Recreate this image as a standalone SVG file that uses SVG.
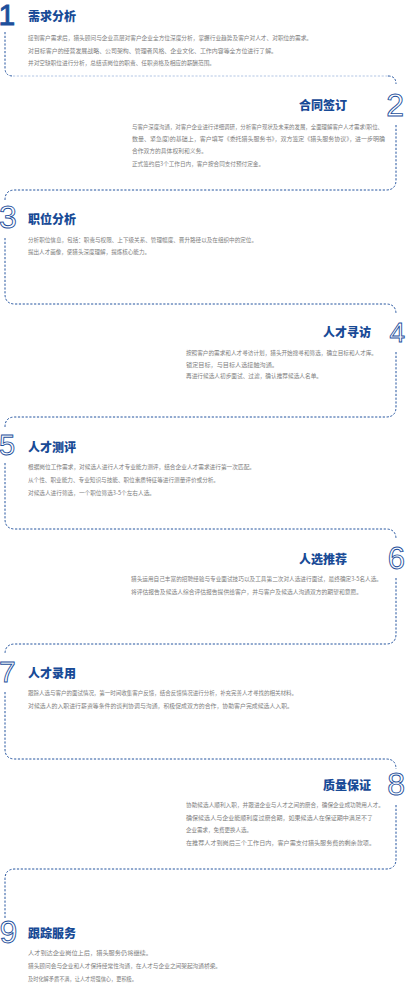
<svg xmlns="http://www.w3.org/2000/svg" width="408" height="1000" viewBox="0 0 408 1000">
<style>
.num{font-family:"Liberation Sans",Arial,sans-serif;font-size:32px;fill:#ffffff;stroke:#1d4f9c;stroke-width:0.9}
.title{font-family:"Noto Sans CJK SC","Noto Sans",sans-serif;font-size:12px;font-weight:900;fill:#184a96}
.body{font-family:"Noto Sans CJK SC","Noto Sans",sans-serif;font-size:6px;fill:#808080}
.dash{fill:none;stroke:#24549f;stroke-width:1;stroke-dasharray:2.2 1.6}
.dash-light{fill:none;stroke:#b3c6e4;stroke-width:1;stroke-dasharray:2.2 1.6}
</style>
<rect width="408" height="1000" fill="#ffffff"/>
<g id="connectors">
<path class="dash" d="M5,32 V68 Q5,76 13,76"/>
<path class="dash-light" d="M13,76 H388"/>
<path class="dash" d="M388,76 Q396,76 396,84"/>
<path class="dash" d="M396,125 V180 Q396,190 386,190 H15 Q5,190 5,200"/>
<path class="dash" d="M5,238 V294 Q5,304 15,304 H386 Q396,304 396,314"/>
<path class="dash" d="M396,352 V407 Q396,417 386,417 H15 Q5,417 5,427"/>
<path class="dash" d="M5,463 V519 Q5,529 15,529 H386 Q396,529 396,539"/>
<path class="dash" d="M396,578 V634 Q396,644 386,644 H15 Q5,644 5,654"/>
<path class="dash" d="M5,692 V749 Q5,759 15,759 H386 Q396,759 396,769"/>
<path class="dash" d="M396,805 V859 Q396,869 386,869 H15 Q5,869 5,879 V918"/>
</g>
<g id="step1">
<text class="num" x="-1.5" y="25" style="fill:#1d4f9c;font-size:30px">1</text>
<text class="title" x="28" y="21">需求分析</text>
<text class="body" x="28" y="39.5" textLength="284" lengthAdjust="spacingAndGlyphs">接到客户需求后，猎头顾问与企业高层对客户企业全方位深度分析，掌握行业趋势及客户对人才、对职位的需求。</text>
<text class="body" x="28" y="52.5" textLength="249" lengthAdjust="spacingAndGlyphs">对目标客户的经营发展战略、公司架构、管理者风格、企业文化、工作内容等全方位进行了解。</text>
<text class="body" x="28" y="65" textLength="187" lengthAdjust="spacingAndGlyphs">并对空缺职位进行分析，总结该岗位的职责、任职资格及相应的薪酬范围。</text>
</g>
<g id="step2">
<text class="num" x="404" y="116" text-anchor="end">2</text>
<text class="title" x="347" y="110" text-anchor="end">合同签订</text>
<text class="body" x="132" y="129" textLength="251" lengthAdjust="spacingAndGlyphs">与客户深度沟通，对客户企业进行详细调研，分析客户现状及未来的发展，全面理解客户人才需求(职位、</text>
<text class="body" x="132" y="140.5" textLength="253" lengthAdjust="spacingAndGlyphs">数量、紧急度)的基础上，客户填写《委托猎头服务书》，双方签定《猎头服务协议》，进一步明确</text>
<text class="body" x="132" y="153" textLength="75" lengthAdjust="spacingAndGlyphs">合作双方的具体权利和义务。</text>
<text class="body" x="132" y="166" textLength="132" lengthAdjust="spacingAndGlyphs">正式签约后3个工作日内，客户按合同支付预付定金。</text>
</g>
<g id="step3">
<text class="num" x="-1" y="228">3</text>
<text class="title" x="28" y="224">职位分析</text>
<text class="body" x="28" y="242" textLength="229" lengthAdjust="spacingAndGlyphs">分析职位信息，包括：职责与权限、上下级关系、管理幅度、晋升路径以及在组织中的定位。</text>
<text class="body" x="28" y="254" textLength="122" lengthAdjust="spacingAndGlyphs">提出人才画像，使猎头深度理解，提炼核心能力。</text>
</g>
<g id="step4">
<text class="num" x="405" y="342" text-anchor="end" style="font-size:28px">4</text>
<text class="title" x="371" y="337" text-anchor="end">人才寻访</text>
<text class="body" x="186" y="355" textLength="191" lengthAdjust="spacingAndGlyphs">按照客户的需求和人才寻访计划，猎头开始搜寻和筛选，确立目标和人才库。</text>
<text class="body" x="186" y="366.5" textLength="92" lengthAdjust="spacingAndGlyphs">锁定目标，与目标人选接触沟通。</text>
<text class="body" x="186" y="377.5" textLength="136" lengthAdjust="spacingAndGlyphs">再进行候选人初步面试、过滤，确认推荐候选人名单。</text>
</g>
<g id="step5">
<text class="num" x="-1" y="455" style="font-size:29px">5</text>
<text class="title" x="28" y="452">人才测评</text>
<text class="body" x="28" y="469" textLength="227" lengthAdjust="spacingAndGlyphs">根据岗位工作需求，对候选人进行人才专业能力测评，结合企业人才需求进行第一次匹配。</text>
<text class="body" x="28" y="482" textLength="191" lengthAdjust="spacingAndGlyphs">从个性、职业能力、专业知识与技能、职位素质特征等进行测量评价或分析。</text>
<text class="body" x="28" y="494.5" textLength="127" lengthAdjust="spacingAndGlyphs">对候选人进行筛选，一个职位筛选3-5个左右人选。</text>
</g>
<g id="step6">
<text class="num" x="405" y="569" text-anchor="end" style="font-size:31px">6</text>
<text class="title" x="347" y="564" text-anchor="end">人选推荐</text>
<text class="body" x="131" y="581" textLength="251" lengthAdjust="spacingAndGlyphs">猎头运用自己丰富的招聘经验与专业面试技巧以及工具第二次对人选进行面试，最终确定3-5名人选。</text>
<text class="body" x="131" y="594" textLength="231" lengthAdjust="spacingAndGlyphs">将评估报告及候选人综合评估报告提供给客户，并与客户及候选人沟通双方的期望和意愿。</text>
</g>
<g id="step7">
<text class="num" x="-1" y="682" style="font-size:30px">7</text>
<text class="title" x="28" y="678">人才录用</text>
<text class="body" x="28" y="695" textLength="269" lengthAdjust="spacingAndGlyphs">跟踪人选与客户的面试情况，第一时间收集客户反馈，结合反馈情况进行分析，补充完善人才寻找的相关材料。</text>
<text class="body" x="28" y="708" textLength="265" lengthAdjust="spacingAndGlyphs">对候选人的入职进行薪资等条件的谈判协调与沟通，积极促成双方的合作，协助客户完成候选人入职。</text>
</g>
<g id="step8">
<text class="num" x="405" y="795" text-anchor="end">8</text>
<text class="title" x="371" y="790" text-anchor="end">质量保证</text>
<text class="body" x="186" y="807" textLength="198" lengthAdjust="spacingAndGlyphs">协助候选人顺利入职，并跟进企业与人才之间的磨合，确保企业成功聘用人才。</text>
<text class="body" x="186" y="819.5" textLength="187" lengthAdjust="spacingAndGlyphs">确保候选人与企业能顺利度过磨合期，如果候选人在保证期中满足不了</text>
<text class="body" x="186" y="831.5" textLength="66" lengthAdjust="spacingAndGlyphs">企业需求，免费更换人选。</text>
<text class="body" x="186" y="844.5" textLength="189" lengthAdjust="spacingAndGlyphs">在推荐人才到岗后三个工作日内，客户需支付猎头服务费的剩余款项。</text>
</g>
<g id="step9">
<text class="num" x="-0.5" y="943">9</text>
<text class="title" x="28" y="938">跟踪服务</text>
<text class="body" x="28" y="955" textLength="124" lengthAdjust="spacingAndGlyphs">人才到达企业岗位上后，猎头服务仍将继续。</text>
<text class="body" x="28" y="968" textLength="193" lengthAdjust="spacingAndGlyphs">猎头顾问会与企业和人才保持经常性沟通，在人才与企业之间架起沟通桥梁。</text>
<text class="body" x="28" y="980.5" textLength="109" lengthAdjust="spacingAndGlyphs">及时化解矛盾不满，让人才增强信心，更积极。</text>
</g>
</svg>
